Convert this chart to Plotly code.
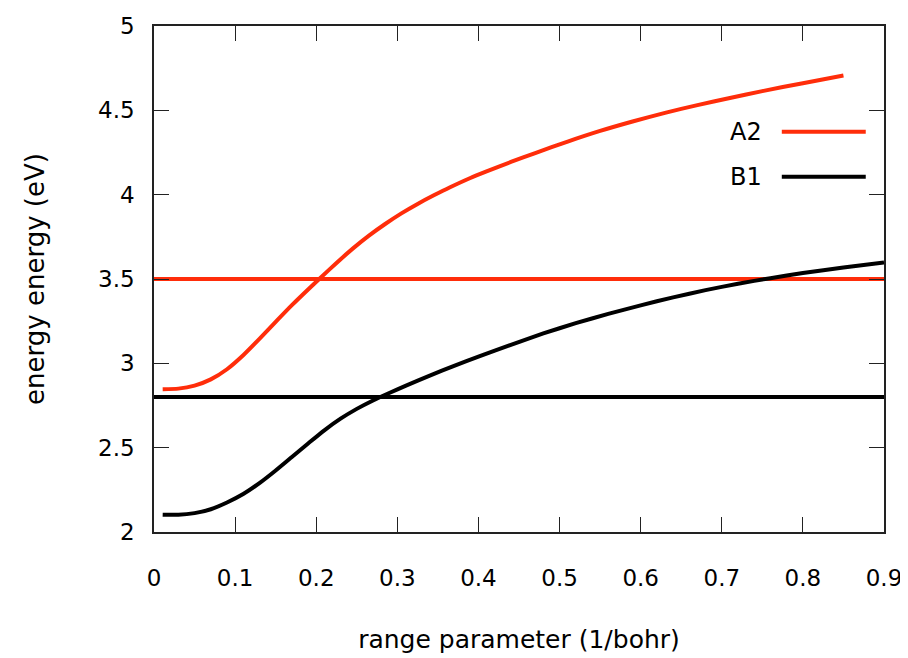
import plotly.graph_objects as go

# ---- data ----
a2_x = [0.0107, 0.03, 0.05, 0.07, 0.09, 0.11, 0.13, 0.15, 0.17, 0.19, 0.205,
        0.225, 0.245, 0.265, 0.285, 0.305, 0.325, 0.345, 0.365, 0.39, 0.41,
        0.44, 0.47, 0.51, 0.55, 0.59, 0.63, 0.67, 0.71, 0.75, 0.8, 0.85]
a2_y = [2.847, 2.850, 2.868, 2.905, 2.965, 3.048, 3.145, 3.246, 3.345, 3.438, 3.506,
        3.595, 3.68, 3.757, 3.826, 3.889, 3.945, 3.996, 4.044, 4.099, 4.138,
        4.194, 4.247, 4.315, 4.378, 4.434, 4.485, 4.531, 4.573, 4.614, 4.661, 4.706]

b1_x = [0.0107, 0.03, 0.05, 0.07, 0.09, 0.11, 0.13, 0.15, 0.17, 0.19, 0.21,
        0.23, 0.25, 0.27, 0.29, 0.31, 0.34, 0.37, 0.4, 0.44, 0.48, 0.52, 0.56,
        0.6, 0.64, 0.68, 0.72, 0.76, 0.8, 0.85, 0.9]
b1_y = [2.103, 2.102, 2.112, 2.135, 2.175, 2.225, 2.29, 2.365, 2.445, 2.525, 2.603,
        2.672, 2.73, 2.78, 2.824, 2.866, 2.927, 2.985, 3.04, 3.11, 3.177, 3.238, 3.293,
        3.344, 3.391, 3.434, 3.472, 3.505, 3.535, 3.568, 3.598]

ref_x = [0.0, 0.9]
ref_a2 = 3.5
ref_b1 = 2.8

x_ticks = [0, 0.1, 0.2, 0.3, 0.4, 0.5, 0.6, 0.7, 0.8, 0.9]
x_tick_text = ["0", "0.1", "0.2", "0.3", "0.4", "0.5", "0.6", "0.7", "0.8", "0.9"]
y_ticks = [2, 2.5, 3, 3.5, 4, 4.5, 5]
y_tick_text = ["2", "2.5", "3", "3.5", "4", "4.5", "5"]

series_names = ["A2", "B1"]
RED = "#ff2d0a"
BLACK = "#000000"
FONT = "DejaVu Sans"

fig = go.Figure()
fig.add_trace(go.Scatter(x=ref_x, y=[ref_a2, ref_a2], mode="lines",
                         line=dict(color=RED, width=4), showlegend=False))
fig.add_trace(go.Scatter(x=ref_x, y=[ref_b1, ref_b1], mode="lines",
                         line=dict(color=BLACK, width=4), showlegend=False))
fig.add_trace(go.Scatter(x=a2_x, y=a2_y, mode="lines", name=series_names[0],
                         line=dict(color=RED, width=4, shape="spline", smoothing=0.6),
                         showlegend=False))
fig.add_trace(go.Scatter(x=b1_x, y=b1_y, mode="lines", name=series_names[1],
                         line=dict(color=BLACK, width=4, shape="spline", smoothing=0.6),
                         showlegend=False))

# gnuplot-style key: text on the left, line sample on the right
for name, col, yp in [(series_names[0], RED, 0.791), (series_names[1], BLACK, 0.702)]:
    fig.add_annotation(xref="paper", yref="paper", x=0.836, y=yp, text=name,
                       showarrow=False, xanchor="right", yanchor="middle",
                       font=dict(family=FONT, size=24, color="black"))
    fig.add_shape(type="line", xref="paper", yref="paper", x0=0.860, x1=0.975,
                  y0=yp, y1=yp, line=dict(color=col, width=4))

axis_common = dict(showgrid=False, zeroline=False, showline=True, linecolor="#222",
                   linewidth=1.5, mirror="allticks", ticks="inside", ticklen=15,
                   tickwidth=1, tickcolor="#222",
                   tickfont=dict(family=FONT, size=23, color="black"))

fig.update_xaxes(range=[0, 0.9], tickvals=x_ticks, ticktext=x_tick_text,
                 ticklabelstandoff=25,
                 title=dict(text="range parameter (1/bohr)", standoff=40,
                            font=dict(family=FONT, size=25, color="black")),
                 **axis_common)
fig.update_yaxes(range=[2, 5], tickvals=y_ticks, ticktext=y_tick_text,
                 ticklabelstandoff=13,
                 title=dict(text="energy energy (eV)", standoff=46,
                            font=dict(family=FONT, size=26, color="black")),
                 **axis_common)

# the page body has an 8px margin, so the figure is 8px smaller than the window
fig.update_layout(width=900, height=650,
                  margin=dict(l=146, r=24, t=18, b=126, autoexpand=False),
                  plot_bgcolor="white", paper_bgcolor="white")

fig.write_html("out.html")
